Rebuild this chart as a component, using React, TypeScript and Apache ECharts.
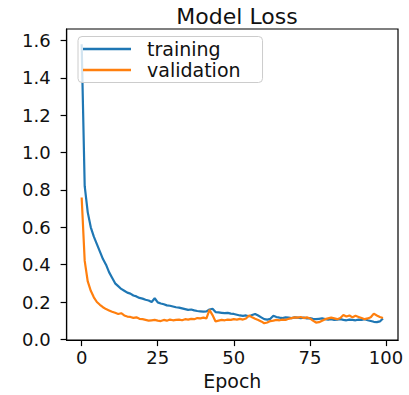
import React, { useEffect, useRef } from "react";
import * as echarts from "echarts";

const epochs: number[] = Array.from({ length: 100 }, (_, i) => i);

const trainingLoss: number[] = [
  1.58, 0.82, 0.68, 0.6, 0.55, 0.51, 0.47, 0.43, 0.4, 0.36,
  0.33, 0.3, 0.285, 0.27, 0.26, 0.25, 0.245, 0.235, 0.23, 0.222,
  0.218, 0.212, 0.208, 0.2, 0.22, 0.198, 0.192, 0.188, 0.182, 0.18,
  0.176, 0.172, 0.17, 0.166, 0.162, 0.158, 0.16, 0.155, 0.152, 0.15,
  0.148, 0.15, 0.16, 0.164, 0.146, 0.144, 0.142, 0.14, 0.142, 0.138,
  0.136, 0.132, 0.128, 0.126, 0.128, 0.124, 0.13, 0.136, 0.128, 0.118,
  0.108, 0.106, 0.11, 0.126, 0.12, 0.116, 0.114, 0.118, 0.116, 0.114,
  0.118, 0.116, 0.114, 0.116, 0.112, 0.114, 0.11, 0.108, 0.11, 0.112,
  0.108, 0.106, 0.108, 0.104, 0.106, 0.108, 0.104, 0.102, 0.106, 0.104,
  0.102, 0.106, 0.104, 0.108, 0.102, 0.098, 0.094, 0.092, 0.096, 0.112,
];

const validationLoss: number[] = [
  0.76, 0.42, 0.31, 0.26, 0.225, 0.2, 0.185, 0.172, 0.162, 0.155,
  0.148, 0.142, 0.136, 0.14, 0.128, 0.122, 0.12, 0.115, 0.118, 0.11,
  0.108, 0.104, 0.1, 0.102, 0.104, 0.1, 0.098, 0.104, 0.1, 0.106,
  0.102, 0.104, 0.106, 0.102, 0.108, 0.106, 0.11, 0.108, 0.114, 0.112,
  0.116, 0.112, 0.158, 0.13, 0.096, 0.1, 0.104, 0.102, 0.106, 0.104,
  0.108, 0.106, 0.11, 0.106, 0.112, 0.128, 0.118, 0.11, 0.104, 0.096,
  0.086, 0.09, 0.098, 0.1, 0.104, 0.102, 0.106, 0.104, 0.11, 0.114,
  0.118, 0.116, 0.12, 0.114, 0.118, 0.112, 0.1, 0.09, 0.092, 0.1,
  0.108, 0.112, 0.116, 0.112, 0.108, 0.114, 0.13, 0.122, 0.128, 0.118,
  0.126, 0.12, 0.114, 0.108, 0.112, 0.118, 0.138, 0.128, 0.12, 0.114,
];

const xTicks: number[] = [0, 25, 50, 75, 100];
const yTicks: number[] = [0, 0.2, 0.4, 0.6, 0.8, 1.0, 1.2, 1.4, 1.6];

const FONT = "DejaVu Sans";
const TEXT = "#111111";

export default function App() {
  const ref = useRef<HTMLDivElement>(null);

  useEffect(() => {
    if (!ref.current) return;
    const chart = echarts.init(ref.current, undefined, { renderer: "svg" });
    const option: any = {
      animation: false,
      backgroundColor: "#ffffff",
      textStyle: { fontFamily: FONT },
      title: {
        text: "Model Loss",
        left: 232,
        top: 0,
        textAlign: "center",
        textStyle: { fontFamily: FONT, fontSize: 22, fontWeight: "normal", color: TEXT },
      },
      grid: {
        left: 66.6,
        right: 11,
        top: 29,
        bottom: 53.5,
        show: true,
        borderColor: "#000000",
        borderWidth: 1.2,
        backgroundColor: "transparent",
      },
      legend: {
        orient: "vertical",
        left: 78,
        top: 36.5,
        padding: [2, 22, 2, 5],
        itemGap: 0,
        itemWidth: 48,
        itemHeight: 2.5,
        icon: "rect",
        backgroundColor: "rgba(255,255,255,0.8)",
        borderColor: "#cccccc",
        borderWidth: 1,
        borderRadius: 4,
        textStyle: {
          fontFamily: FONT,
          fontSize: 19,
          color: TEXT,
          lineHeight: 21,
          padding: [0, 0, 0, 11],
        },
        data: ["training", "validation"],
      },
      xAxis: {
        type: "value",
        min: -4.95,
        max: 103.95,
        name: "Epoch",
        nameLocation: "middle",
        nameGap: 27,
        nameTextStyle: { fontFamily: FONT, fontSize: 19, color: TEXT, verticalAlign: "top" },
        axisLine: { show: true, onZero: false, lineStyle: { color: "#000000", width: 1.2 } },
        axisTick: { show: true, length: 6, inside: false, customValues: xTicks, lineStyle: { color: "#000000", width: 1.2 } },
        axisLabel: {
          customValues: xTicks,
          margin: 8,
          fontFamily: FONT,
          fontSize: 18,
          color: TEXT,
          formatter: (v: number) => String(v),
        },
        splitLine: { show: false },
      },
      yAxis: {
        type: "value",
        min: -0.004,
        max: 1.662,
        axisLine: { show: true, onZero: false, lineStyle: { color: "#000000", width: 1.2 } },
        axisTick: { show: true, length: 6, inside: false, customValues: yTicks, lineStyle: { color: "#000000", width: 1.2 } },
        axisLabel: {
          customValues: yTicks,
          margin: 16,
          fontFamily: FONT,
          fontSize: 18,
          color: TEXT,
          formatter: (v: number) => v.toFixed(1),
        },
        splitLine: { show: false },
      },
      series: [
        {
          name: "training",
          type: "line",
          data: epochs.map((e, i) => [e, trainingLoss[i]]),
          showSymbol: false,
          color: "#1f77b4",
          lineStyle: { color: "#1f77b4", width: 2.2 },
        },
        {
          name: "validation",
          type: "line",
          data: epochs.map((e, i) => [e, validationLoss[i]]),
          showSymbol: false,
          color: "#ff7f0e",
          lineStyle: { color: "#ff7f0e", width: 2.2 },
        },
      ],
    };
    chart.setOption(option);
    return () => chart.dispose();
  }, []);

  return (
    <div
      ref={ref}
      style={{ position: "fixed", left: 0, top: 0, width: 409, height: 395, background: "#fff" }}
    />
  );
}
